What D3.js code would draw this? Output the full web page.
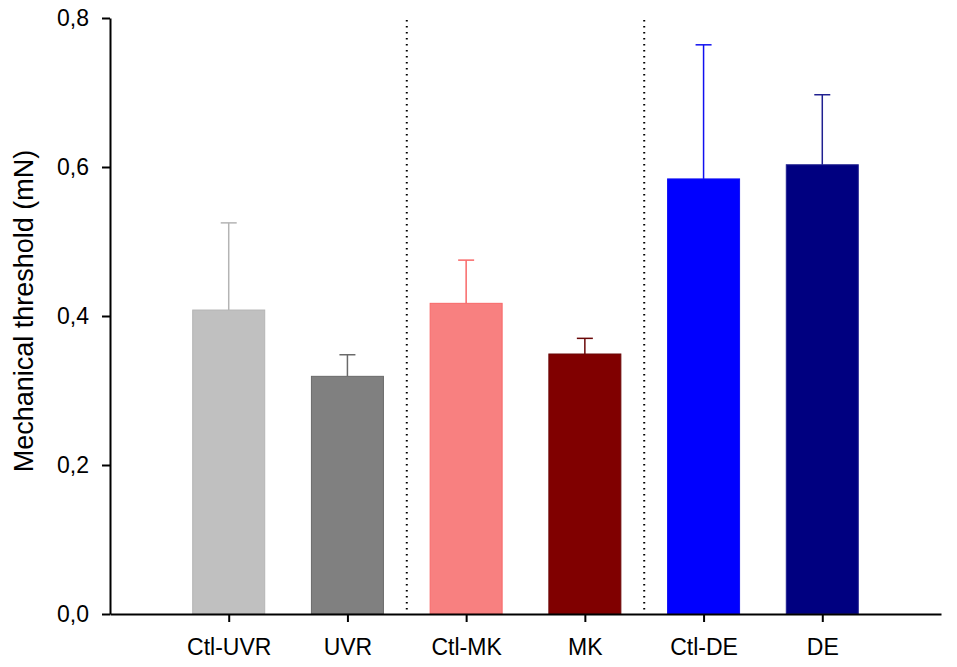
<!DOCTYPE html>
<html><head><meta charset="utf-8">
<script src="https://cdn.jsdelivr.net/npm/d3@7"></script>
<style>body{margin:0;background:#fff;} text{font-family:"Liberation Sans",Arial,sans-serif;}</style>
</head><body>
<svg id="c" width="957" height="667"></svg>
<script>
const categories = ["Ctl-UVR","UVR","Ctl-MK","MK","Ctl-DE","DE"];
const means = [0.408, 0.319, 0.417, 0.349, 0.584, 0.603];
const errTops = [0.525, 0.348, 0.475, 0.370, 0.764, 0.697];
const fills = ["#c0c0c0","#808080","#f88080","#800000","#0000ff","#000080"];
const strokes = ["#b4b4b4","#6a6a6a","#f86868","#6a0808","#1010f0","#202090"];
const yTicks = [0, 0.2, 0.4, 0.6, 0.8];
const separatorsAfter = [1, 3];

const svg = d3.select("#c");
const x = d3.scalePoint().domain(categories).range([110, 941]).padding(1);
const y = d3.scaleLinear().domain([0, 0.8]).range([614, 18]);
const bw = 72;
const fmt = d => d3.format(".1f")(d).replace(".", ",");

// separators
separatorsAfter.forEach(i => {
  const xm = (x(categories[i]) + x(categories[i+1])) / 2;
  svg.append("line").attr("x1", xm).attr("x2", xm).attr("y1", 20).attr("y2", 612)
    .attr("stroke", "#000").attr("stroke-width", 2).attr("stroke-dasharray", "1.5,4.5");
});

const data = categories.map((c, i) => ({c, m: means[i], e: errTops[i], f: fills[i], s: strokes[i]}));

// error bars
const g = svg.append("g");
data.forEach(d => {
  const cx = x(d.c);
  g.append("line").attr("x1", cx).attr("x2", cx).attr("y1", y(d.m)).attr("y2", y(d.e))
    .attr("stroke", d.s).attr("stroke-width", 1.5);
  g.append("line").attr("x1", cx - 8).attr("x2", cx + 8).attr("y1", y(d.e)).attr("y2", y(d.e))
    .attr("stroke", d.s).attr("stroke-width", 1.5);
});
// bars
g.selectAll("rect").data(data).join("rect")
  .attr("x", d => x(d.c) - bw/2).attr("width", bw)
  .attr("y", d => y(d.m)).attr("height", d => y(0) - y(d.m))
  .attr("fill", d => d.f).attr("stroke", d => d.s).attr("stroke-width", 1);

// axes
const yAxis = svg.append("g").attr("transform", "translate(110,0)")
  .call(d3.axisLeft(y).tickValues(yTicks).tickFormat(fmt).tickSize(8).tickSizeOuter(0).tickPadding(13));
yAxis.select(".domain").attr("stroke-width", 2);
yAxis.selectAll(".tick line").attr("stroke-width", 2);
yAxis.selectAll("text").style("font-size", "23px").attr("fill", "#000").style("font-family", "Liberation Sans, Arial, sans-serif");

const xAxis = svg.append("g").attr("transform", "translate(0,614)")
  .call(d3.axisBottom(x).tickSize(8).tickSizeOuter(0).tickPadding(17));
xAxis.select(".domain").attr("stroke-width", 2);
xAxis.selectAll(".tick line").attr("stroke-width", 2);
xAxis.selectAll("text").style("font-size", "23px").attr("fill", "#000").style("font-family", "Liberation Sans, Arial, sans-serif");

svg.append("text").attr("transform", "translate(33,311) rotate(-90)")
  .attr("text-anchor", "middle").style("font-size", "27px").attr("fill", "#000")
  .text("Mechanical threshold (mN)");
</script>
</body></html>
